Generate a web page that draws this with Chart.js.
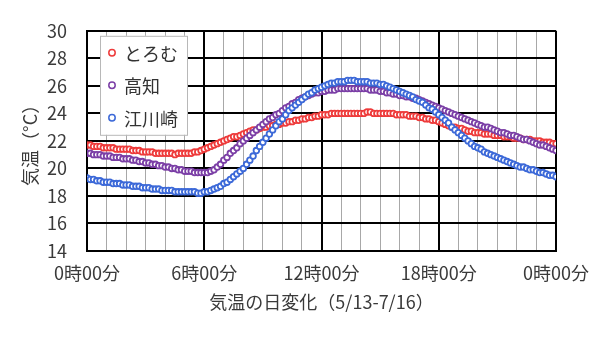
<!DOCTYPE html>
<html lang="ja">
<head>
<meta charset="utf-8">
<script src="https://cdn.jsdelivr.net/npm/chart.js@4/dist/chart.umd.min.js"></script>
<style>
  html, body { margin: 0; padding: 0; background: #fff; }
  #wrap { width: 600px; height: 337px; }
</style>
</head>
<body>
<div id="wrap"><canvas id="tempChart" width="600" height="337"></canvas></div>
<script>
// 10分ごとの平均気温 (0:00 - 24:00, 145点)
const seriesNames = ['とろむ', '高知', '江川崎'];
const seriesColors = ['#ee3b3b', '#7b3fa6', '#3c69d8'];
const stepMinutes = 10;
const xTickLabels = ['0時00分', '6時00分', '12時00分', '18時00分', '0時00分'];
const yMin = 14, yMax = 30;

const toromu = [
  21.7, 21.7, 21.6, 21.6, 21.6, 21.5,
  21.5, 21.5, 21.5, 21.4, 21.4, 21.4,
  21.4, 21.4, 21.3, 21.3, 21.3, 21.2,
  21.2, 21.2, 21.2, 21.1, 21.1, 21.1,
  21.1, 21.1, 21.1, 21.0, 21.1, 21.1,
  21.1, 21.1, 21.1, 21.2, 21.2, 21.3,
  21.4, 21.5, 21.6, 21.7, 21.8, 21.9,
  22.0, 22.1, 22.2, 22.3, 22.3, 22.4,
  22.5, 22.6, 22.7, 22.8, 22.8, 22.9,
  23.0, 23.0, 23.1, 23.1, 23.2, 23.2,
  23.3, 23.3, 23.4, 23.4, 23.5, 23.5,
  23.6, 23.6, 23.7, 23.7, 23.8, 23.8,
  23.9, 23.9, 23.9, 24.0, 24.0, 24.0,
  24.0, 24.0, 24.0, 24.0, 24.0, 24.0,
  24.0, 24.0, 24.1, 24.1, 24.0, 24.0,
  24.0, 24.0, 24.0, 24.0, 24.0, 23.9,
  23.9, 23.9, 23.9, 23.8, 23.8, 23.8,
  23.7, 23.7, 23.6, 23.6, 23.5, 23.5,
  23.4, 23.3, 23.2, 23.1, 23.0, 23.0,
  22.9, 22.9, 22.8, 22.7, 22.7, 22.6,
  22.6, 22.6, 22.5, 22.5, 22.5, 22.4,
  22.4, 22.4, 22.3, 22.3, 22.3, 22.2,
  22.2, 22.2, 22.1, 22.1, 22.1, 22.0,
  22.0, 22.0, 21.9, 21.9, 21.9, 21.8,
  21.8
];

const kochi = [
  21.1, 21.1, 21.0, 21.0, 21.0, 20.9,
  20.9, 20.9, 20.8, 20.8, 20.8, 20.7,
  20.7, 20.7, 20.6, 20.6, 20.5, 20.5,
  20.4, 20.4, 20.3, 20.3, 20.2, 20.2,
  20.1, 20.1, 20.0, 20.0, 19.9, 19.9,
  19.8, 19.8, 19.8, 19.7, 19.7, 19.7,
  19.7, 19.7, 19.8, 19.9, 20.1, 20.3,
  20.6, 20.8, 21.1, 21.3, 21.5, 21.8,
  22.0, 22.2, 22.4, 22.6, 22.8, 23.0,
  23.2, 23.4, 23.6, 23.7, 23.9, 24.0,
  24.2, 24.4, 24.5, 24.7, 24.8, 25.0,
  25.1, 25.2, 25.3, 25.4, 25.5, 25.5,
  25.6, 25.6, 25.7, 25.7, 25.7, 25.8,
  25.8, 25.8, 25.8, 25.8, 25.8, 25.8,
  25.8, 25.8, 25.8, 25.7, 25.7, 25.7,
  25.6, 25.6, 25.5, 25.5, 25.4, 25.4,
  25.3, 25.3, 25.2, 25.2, 25.1, 25.1,
  25.0, 24.9, 24.8, 24.7, 24.6, 24.5,
  24.4, 24.3, 24.2, 24.1, 24.0, 23.9,
  23.8, 23.7, 23.6, 23.5, 23.4, 23.3,
  23.2, 23.1, 23.0, 23.0, 22.9, 22.8,
  22.7, 22.6, 22.6, 22.5, 22.4, 22.4,
  22.3, 22.2, 22.1, 22.1, 22.0, 21.9,
  21.8, 21.7, 21.7, 21.6, 21.5, 21.4,
  21.3
];

const ekawasaki = [
  19.3, 19.2, 19.2, 19.1, 19.1, 19.0,
  19.0, 19.0, 18.9, 18.9, 18.9, 18.8,
  18.8, 18.8, 18.7, 18.7, 18.7, 18.6,
  18.6, 18.6, 18.5, 18.5, 18.5, 18.4,
  18.4, 18.4, 18.4, 18.3, 18.3, 18.3,
  18.3, 18.3, 18.3, 18.3, 18.2, 18.2,
  18.3, 18.3, 18.4, 18.5, 18.6, 18.7,
  18.9, 19.0, 19.2, 19.4, 19.6, 19.8,
  20.0, 20.3, 20.6, 20.9, 21.3, 21.6,
  21.9, 22.2, 22.5, 22.8, 23.1, 23.4,
  23.6, 23.9, 24.2, 24.4, 24.6, 24.8,
  25.0, 25.2, 25.4, 25.5, 25.7, 25.8,
  25.9, 26.0, 26.1, 26.2, 26.2, 26.3,
  26.3, 26.3, 26.4, 26.4, 26.4, 26.3,
  26.3, 26.3, 26.3, 26.2, 26.2, 26.2,
  26.1, 26.1, 26.0, 25.9, 25.8, 25.7,
  25.6, 25.5, 25.4, 25.3, 25.2, 25.0,
  24.9, 24.8, 24.6, 24.4, 24.3, 24.1,
  23.9, 23.7, 23.5, 23.3, 23.0, 22.8,
  22.6, 22.4, 22.2, 22.0, 21.8, 21.6,
  21.5, 21.4, 21.2, 21.1, 21.0, 20.9,
  20.8, 20.7, 20.6, 20.5, 20.4, 20.3,
  20.2, 20.1, 20.1, 20.0, 19.9, 19.9,
  19.8, 19.7, 19.7, 19.6, 19.5, 19.5,
  19.4
];

const FONT = '"Noto Sans CJK JP", "Noto Sans", sans-serif';
const TEXT = '#3a3a3a';

function toPoints(arr) {
  return arr.map((v, i) => ({ x: i * stepMinutes, y: v }))
}

// 凡例はプロット内の白い枠に描く
const insideLegend = {
  id: 'insideLegend',
  afterDraw(chart) {
    const ctx = chart.ctx;
    const a = chart.chartArea;
    const bx = a.left + 13, by = a.top + 5, bw = 87, bh = 99;
    ctx.save();
    ctx.fillStyle = '#fff';
    ctx.fillRect(bx, by, bw, bh);
    ctx.strokeStyle = '#b8b8b8';
    ctx.lineWidth = 1;
    ctx.strokeRect(bx + 0.5, by + 0.5, bw, bh);
    ctx.font = '18px ' + FONT;
    ctx.textBaseline = 'middle';
    chart.data.datasets.forEach((ds, i) => {
      const cy = by + 17 + i * 32.5;
      ctx.beginPath();
      ctx.arc(bx + 12, cy, 3.2, 0, Math.PI * 2);
      ctx.fillStyle = '#fff';
      ctx.fill();
      ctx.strokeStyle = ds.borderColor;
      ctx.lineWidth = 1.5;
      ctx.stroke();
      ctx.fillStyle = '#333';
      ctx.fillText(ds.label, bx + 24, cy + 1);
    });
    ctx.restore();
  }
};

const allSeries = [toromu, kochi, ekawasaki];
const datasets = allSeries.map((arr, i) => ({
  label: seriesNames[i],
  data: toPoints(arr),
  showLine: false,
  borderColor: seriesColors[i],
  backgroundColor: '#fff',
  pointBackgroundColor: '#fff',
  pointBorderColor: seriesColors[i],
  pointBorderWidth: 1.8,
  pointRadius: 2.8,
  order: 2 - i
}));

new Chart(document.getElementById('tempChart'), {
  type: 'scatter',
  data: { datasets },
  plugins: [insideLegend],
  options: {
    responsive: false,
    animation: false,
    devicePixelRatio: 1,
    layout: { padding: { left: 0, right: 43, top: 18, bottom: 0 } },
    plugins: {
      legend: { display: false },
      tooltip: { enabled: false }
    },
    scales: {
      x: {
        type: 'linear',
        min: 0,
        max: 1440,
        afterFit: (s) => { s.height = 86 },
        afterBuildTicks: (s) => {
          s.ticks = [];
          for (let m = 0; m <= 1440; m += 60) s.ticks.push({ value: m });
        },
        border: { color: '#000', width: 2 },
        grid: {
          drawTicks: false,
          color: (c) => (c.tick && c.tick.value % 360 === 0) ? '#000' : '#a8a8a8',
          lineWidth: (c) => (c.tick && c.tick.value % 360 === 0) ? 2 : 1
        },
        ticks: {
          autoSkip: false,
          maxRotation: 0,
          padding: 11,
          color: TEXT,
          font: { family: FONT, size: 18 },
          callback: (v) => v % 360 === 0 ? xTickLabels[v / 360] : ''
        },
        title: {
          display: true,
          text: '気温の日変化（5/13-7/16）',
          color: TEXT,
          font: { family: FONT, size: 18 },
          padding: { top: 0, bottom: 24 }
        }
      },
      y: {
        min: yMin,
        max: yMax,
        afterFit: (s) => { s.width = 87 },
        border: { color: '#000', width: 2 },
        grid: {
          drawTicks: false,
          color: (c) => (c.tick && c.tick.value % 2 === 0) ? '#000' : '#a8a8a8',
          lineWidth: (c) => (c.tick && c.tick.value % 2 === 0) ? 2 : 1
        },
        ticks: {
          stepSize: 1,
          padding: 20,
          color: TEXT,
          font: { family: FONT, size: 18 },
          callback: (v) => v % 2 === 0 ? v : ''
        },
        title: {
          display: true,
          text: '気温（°C）',
          color: TEXT,
          font: { family: FONT, size: 18 },
          padding: { top: 19, bottom: 0 }
        }
      }
    }
  }
});
</script>
</body>
</html>
